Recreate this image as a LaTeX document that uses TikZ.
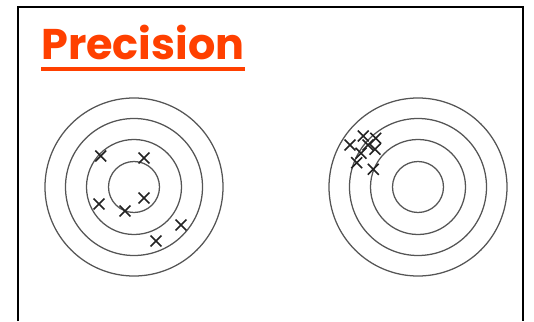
\documentclass[tikz,border=0pt]{standalone}
\usepackage{fontspec}
\setsansfont{Poppins}
\usetikzlibrary{positioning, shapes.misc}
\definecolor{titlered}{HTML}{FF4000}
\definecolor{ring}{HTML}{555555}
\definecolor{mark}{HTML}{222222}

\begin{document}
\begin{tikzpicture}[x=0.75pt, y=-0.75pt,
    ringline/.style={draw=ring, line width=0.95pt},
    hit/.style={cross out, draw=mark, line width=1.2pt, minimum size=7pt, inner sep=0pt}]
  \useasboundingbox (0,0) rectangle (534,321);
  \draw[line width=1.9pt] (18,321) -- (18,7) -- (523,7) -- (523,321);

  \node[anchor=base west, inner sep=0pt, text=titlered, font=\sffamily\bfseries\fontsize{32.2}{36}\selectfont] (title) at (41,60) {Precision};
  \draw[titlered, line width=3pt] (title.base west) ++(0,9) coordinate (ul) -- (title.base east |- ul);

  % targets
  \coordinate (left) at (134,187);
  \coordinate (right) at (418,187);
  \foreach \r in {25.5, 47.5, 68.5, 89} {
    \draw[ringline] (left) circle (\r);
    \draw[ringline] (right) circle (\r);
  }

  % scattered hits
  \node[hit] (a1) at (100.7,156) {};
  \node[hit] (a2) at (144,158) {};
  \node[hit] (a3) at (144,198) {};
  \node[hit] (a4) at (99,204) {};
  \node[hit] (a5) at (125,211) {};
  \node[hit] (a6) at (181,225) {};
  \node[hit] (a7) at (156,241) {};

  % clustered hits
  \node[hit] (b1) at (350,145) {};
  \node[hit] (b2) at (363.3,136) {};
  \node[hit] (b3) at (375.7,138.3) {};
  \node[hit] (b4) at (368,145) {};
  \node[hit] (b5) at (361,153.3) {};
  \node[hit] (b6) at (375,149.3) {};
  \node[hit] (b7) at (356.7,162.7) {};
  \node[hit] (b8) at (373.3,169.3) {};
\end{tikzpicture}
\end{document}
